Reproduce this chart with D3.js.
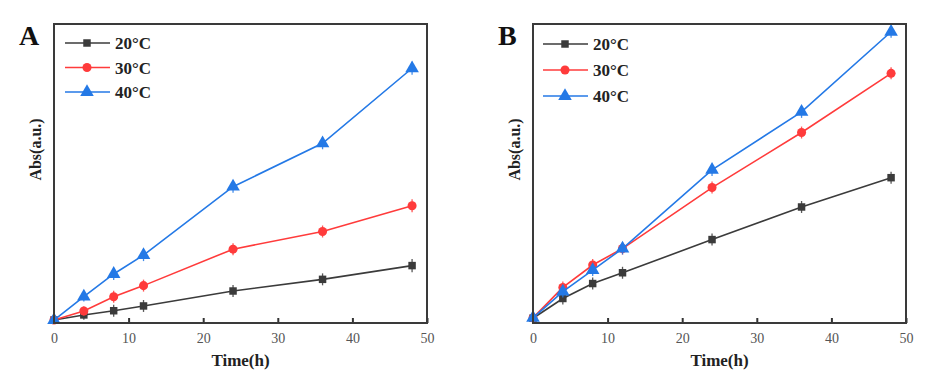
<!DOCTYPE html>
<meta charset="utf-8">
<script src="https://d3js.org/d3.v7.min.js"></script>
<style>
  body { margin: 0; background: #fff; }
  svg text { font-family: 'Liberation Serif', 'Times New Roman', 'DejaVu Serif', serif !important; }
</style>
<body>
<div id="chart"></div>
<script>

// time points (h)
var times = [0, 4, 8, 12, 24, 36, 48];
var seriesNames = ["20\u00B0C", "30\u00B0C", "40\u00B0C"];
var xTicks = [0, 10, 20, 30, 40, 50];

// panel A absorbance (arbitrary units)
var a20 = [0.010, 0.027, 0.041, 0.057, 0.107, 0.146, 0.192];
var a30 = [0.010, 0.040, 0.088, 0.125, 0.247, 0.306, 0.392];
var a40 = [0.010, 0.088, 0.164, 0.227, 0.456, 0.601, 0.852];
var aErr = [0.005, 0.016, 0.020, 0.020, 0.020, 0.020, 0.022];

// panel B absorbance (arbitrary units)
var b20 = [0.016, 0.082, 0.132, 0.168, 0.279, 0.388, 0.486];
var b30 = [0.017, 0.119, 0.194, 0.249, 0.453, 0.637, 0.835];
var b40 = [0.017, 0.105, 0.177, 0.249, 0.512, 0.706, 0.974];
var bErr = [0.008, 0.020, 0.020, 0.020, 0.020, 0.020, 0.020];

var colors = ["#3b3b3b", "#ff3b3b", "#2479e6"];
var shapes = [d3.symbolSquare, d3.symbolCircle, d3.symbolTriangle];
var sizes = [56, 64, 80];
var serif = "'Liberation Serif', 'Times New Roman', serif";

var svg = d3.select("#chart").append("svg")
  .attr("width", 945).attr("height", 385);

function panel(left, label, data, err, legendX, legendY, legendGap) {
  var w = 373, h = 299, top = 24;
  var g = svg.append("g").attr("transform", "translate(" + left + "," + top + ")")
    .attr("font-family", serif);

  var x = d3.scaleLinear().domain([0, 50]).range([0, w]);
  var y = d3.scaleLinear().domain([0, 1]).range([h, 0]);

  // x axis ticks pointing inward
  var xa = g.append("g").attr("transform", "translate(0," + h + ")")
    .call(d3.axisBottom(x).tickValues(xTicks).tickSize(-5).tickPadding(10).tickFormat(d3.format("d")));
  xa.attr("font-family", serif);
  xa.select(".domain").remove();
  xa.selectAll("line").attr("stroke", "#333").attr("stroke-width", 2);
  xa.selectAll("text").attr("font-size", 14).attr("fill", "#555");

  // series
  data.forEach(function(vals, i) {
    var pts = times.map(function(t, j) { return {t: t, v: vals[j], e: err[j]}; });
    g.append("path").datum(pts)
      .attr("fill", "none").attr("stroke", colors[i]).attr("stroke-width", 1.6)
      .attr("d", d3.line().x(function(d) { return x(d.t); }).y(function(d) { return y(d.v); }));
    g.selectAll(".err" + i).data(pts).enter().append("line")
      .attr("x1", function(d) { return x(d.t); }).attr("x2", function(d) { return x(d.t); })
      .attr("y1", function(d) { return y(d.v - d.e); }).attr("y2", function(d) { return y(d.v + d.e); })
      .attr("stroke", colors[i]).attr("stroke-width", 1.3).attr("opacity", 0.85);
    g.selectAll(".pt" + i).data(pts).enter().append("path")
      .attr("transform", function(d) { return "translate(" + x(d.t) + "," + y(d.v) + ")"; })
      .attr("d", d3.symbol().type(shapes[i]).size(sizes[i]))
      .attr("fill", colors[i]);
  });

  // frame
  g.append("rect").attr("width", w).attr("height", h)
    .attr("fill", "none").attr("stroke", "#3a3a3a").attr("stroke-width", 2);

  // legend
  seriesNames.forEach(function(name, i) {
    var ly = legendY + i * legendGap;
    g.append("line").attr("x1", legendX).attr("x2", legendX + 45)
      .attr("y1", ly).attr("y2", ly).attr("stroke", colors[i]).attr("stroke-width", 1.6);
    g.append("path").attr("transform", "translate(" + (legendX + 22) + "," + ly + ")")
      .attr("d", d3.symbol().type(shapes[i]).size(sizes[i])).attr("fill", colors[i]);
    g.append("text").attr("x", legendX + 50).attr("y", ly + 6)
      .attr("font-size", 17).attr("font-weight", "bold").attr("fill", "#222").text(name);
  });

  // axis titles
  g.append("text").attr("x", w / 2).attr("y", h + 43).attr("text-anchor", "middle")
    .attr("font-size", 17).attr("font-weight", "bold").attr("fill", "#222").text("Time(h)");
  g.append("text").attr("transform", "translate(-13," + (h / 2 - 24) + ") rotate(-90)")
    .attr("text-anchor", "middle")
    .attr("font-size", 16).attr("font-weight", "bold").attr("fill", "#222").text("Abs(a.u.)");

  // panel letter
  g.append("text").attr("x", -35).attr("y", 21)
    .attr("font-size", 28).attr("font-weight", "bold").attr("fill", "#111").text(label);
}

panel(54, "A", [a20, a30, a40], aErr, 11, 19, 24.5);
panel(533, "B", [b20, b30, b40], bErr, 10, 20, 26);

</script>
</body>
